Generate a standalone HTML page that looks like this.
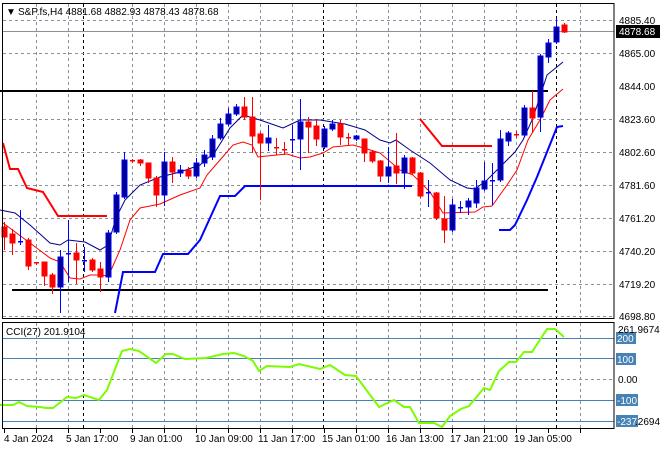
<!DOCTYPE html>
<html><head><meta charset="utf-8"><style>
body{margin:0;background:#fff;}
svg{display:block;font-family:"Liberation Sans",sans-serif;font-size:10px;}
</style></head><body>
<svg id="s" width="660" height="450" xmlns="http://www.w3.org/2000/svg">
<rect width="660" height="450" fill="#fff"/>
<g id="grid" stroke="#8a9199" stroke-dasharray="3,3" stroke-width="1"></g>
<line x1="2" y1="31.5" x2="614" y2="31.5" stroke="#8a9199"/>
<line x1="0" y1="91" x2="548" y2="91" stroke="#000" stroke-width="2"/>
<line x1="12" y1="290" x2="548" y2="290" stroke="#000" stroke-width="2"/>
<g id="lines" fill="none"></g>
<g id="candles"></g>
<g id="cci" fill="none"></g>
<rect x="2.5" y="3.5" width="611.5" height="315" fill="none" stroke="#000"/>
<rect x="2.5" y="322.5" width="611.5" height="106" fill="none" stroke="#000"/>
<g fill="#000">
<text x="6" y="15">&#9660;</text>
<text x="18" y="15">S&amp;P.fs,H4  4881.68 4882.93 4878.43 4878.68</text>
<text x="619" y="24">4885.40</text>
<text x="619" y="57">4865.00</text>
<text x="619" y="90">4844.00</text>
<text x="619" y="123">4823.60</text>
<text x="619" y="156">4802.60</text>
<text x="619" y="189">4781.60</text>
<text x="619" y="222">4761.20</text>
<text x="619" y="255">4740.20</text>
<text x="619" y="288">4719.20</text>
<text x="619" y="320">4698.80</text>
</g>
<rect x="616" y="25" width="44" height="13" fill="#000"/>
<text x="619" y="35" fill="#fff">4878.68</text>
<g fill="#4682b4">
<rect x="616" y="332" width="20" height="12"/>
<rect x="616" y="353" width="20" height="12"/>
<rect x="616" y="394" width="22" height="12"/>
<rect x="616" y="415" width="22" height="12"/>
</g>
<g fill="#fff"><text x="617" y="342">200</text><text x="617" y="363">100</text><text x="617" y="404">-100</text><text x="617" y="425">-237</text></g>
<g fill="#000">
<text x="618" y="333">261.9674</text>
<text x="618" y="383">0.00</text>
<text x="635" y="425">.2694</text>
<text x="6" y="335">CCI(27) 201.9104</text>
<text x="4" y="442">4 Jan 2024</text>
<text x="66" y="442">5 Jan 17:00</text>
<text x="130" y="442">9 Jan 01:00</text>
<text x="195" y="442">10 Jan 09:00</text>
<text x="258" y="442">11 Jan 17:00</text>
<text x="322" y="442">15 Jan 01:00</text>
<text x="386" y="442">16 Jan 13:00</text>
<text x="450" y="442">17 Jan 21:00</text>
<text x="514" y="442">19 Jan 05:00</text>
</g>
<g id="ticks" stroke="#000"></g>
</svg>
<script>
const NS="http://www.w3.org/2000/svg";
function el(p,t,a){const e=document.createElementNS(NS,t);for(const k in a)e.setAttribute(k,a[k]);p.appendChild(e);return e;}
const g=document.getElementById('grid');
const vx=[36,68,132,164,196,228,260,292,356,388,420,452,484,516,580];
vx.forEach(x=>{el(g,'line',{x1:x+.5,y1:4,x2:x+.5,y2:318});el(g,'line',{x1:x+.5,y1:323,x2:x+.5,y2:428});});
[83,323,556].forEach(x=>{el(g,'line',{x1:x+.5,y1:4,x2:x+.5,y2:318,stroke:'#000'});el(g,'line',{x1:x+.5,y1:323,x2:x+.5,y2:428,stroke:'#000'});});
[20,53,119,152,185,218,251,284,316].forEach(y=>el(g,'line',{x1:3,y1:y+.5,x2:614,y2:y+.5}));
el(g,'line',{x1:3,y1:379.5,x2:614,y2:379.5});
[338,358,400,421].forEach(y=>el(g,'line',{x1:3,y1:y+.5,x2:614,y2:y+.5,stroke:'#4682b4','stroke-dasharray':'none'}));
const tk=document.getElementById('ticks');
[4,36,68,100,132,164,196,228,260,292,324,356,388,420,452,484,516,548,580].forEach(x=>el(tk,'line',{x1:x+.5,y1:429,x2:x+.5,y2:433}));
const L=document.getElementById('lines');
function pl(pts,c,w){el(L,'polyline',{points:pts,stroke:c,'stroke-width':w,fill:'none'});}
pl("0,210 15,213 30,225 50,243 60,245 68,240 85,242 100,250 108,245 116,218 125,200 140,185 160,177 180,172 200,165 215,152 230,128 243,115 260,120 283,128 300,120 320,120 345,124 365,130 380,140 390,143 396,140 410,150 430,163 450,180 467,188 475,189 487,180 500,167 515,152 523,140 533,118 547,75 563,62","#00008b",1);
pl("3,223 30,243 50,258 60,262 70,278 80,279 90,275 100,275 108,276 112,268 120,250 130,220 140,208 150,206 160,204 180,195 200,188 207,175 220,160 233,145 243,142 252,145 258,157 267,156 287,154 300,158 310,157 323,153 333,147 353,145 367,149 380,153 400,170 413,175 430,192 443,213 475,212 483,207 492,206 507,185 517,170 528,103 540,90 563,89".replace(/528,103 540,90/,'528,140 540,120 550,100'),"#ff0000",1);
pl("3,143 10,169 18,169 27,188 43,192 58,216 107,216","#ff0000",2);
pl("420,119 442,146 492,146","#ff0000",2);
pl("115,313 123,272 155,272 163,254 188,254 200,240 220,196 235,196 245,186 412,186","#0000ff",2);
pl("499,230 510,230 515,225 527,200 537,177 557,127 563,126","#0000ff",2);
const C=document.getElementById('candles');
// [color, open-top, close-bottom, wickTop, wickBot]
const d=[['r',227,237,222,250],['r',234,243,229,255],['b',241,243,210,245],['r',240,266,238,270],['r',262,264,262,265],['r',262,276,262,286],['r',275,287,273,294],['b',257,287,250,313],['b',253,254,220,282],['r',253,260,243,284],['b',260,261,247,272],['r',260,270,258,272],['r',269,277,262,292],['b',233,277,230,282],['b',195,232,192,234],['b',160,197,152,199],['r',160,162,159,163],['r',160,163,159,166],['r',163,178,163,183],['r',178,195,176,207],['b',162,195,152,206],['r',162,172,157,183],['b',170,173,165,177],['r',170,176,167,179],['b',163,176,158,178],['b',155,163,150,167],['b',139,157,135,160],['b',124,138,118,140],['b',114,124,108,126],['b',107,114,104,116],['r',107,117,97,120],['r',117,136,97,153],['r',134,143,132,200],['b',138,143,125,151],['r',147,149,138,155],['r',149,151,142,155],['b',139,141,125,153],['b',122,139,99,170],['r',122,127,117,153],['r',126,139,119,146],['b',129,147,126,149],['b',124,129,120,131],['r',124,137,120,145],['r',137,139,133,145],['b',136,139,135,141],['r',139,153,139,162],['r',152,161,150,163],['r',161,176,160,182],['b',167,176,147,183],['r',166,173,133,184],['b',158,173,155,189],['r',158,173,157,175],['r',173,196,172,198],['b',192,194,180,207],['r',193,218,192,220],['r',219,230,196,243],['b',205,230,199,232],['b',207,209,201,213],['b',201,207,198,215],['b',188,203,180,208],['b',181,189,162,191],['b',180,182,163,205],['b',139,180,130,182],['b',133,141,131,146],['r',134,135,131,138],['b',108,135,105,137],['r',108,118,91,133],['b',56,117,54,132],['b',43,57,39,63],['b',27,42,18,44],['r',25,32,23,33]];
d.forEach((c,i)=>{const x=4+8*i;const red=c[0]=='r';
el(C,'line',{x1:x+.5,y1:c[3],x2:x+.5,y2:c[4],stroke:red?'#ff0000':'#0000ff','stroke-width':1});
const h=Math.max(1,c[2]-c[1]);
if(h<=2){el(C,'rect',{x:x-2,y:c[1],width:5,height:1.5,fill:red?'#ff0000':'#0000ff'});}
else el(C,'rect',{x:x-2,y:c[1],width:5,height:h,fill:red?'#ff0000':'#000090',stroke:red?'#ff0000':'#0000ff','stroke-width':1});
});
const K=document.getElementById('cci');
el(K,'polyline',{points:"0,405 13,405 19,402 27,406 40,407 46,408 53,408 67,397 76,398 84,395 99,400 107,390 122,351 130,349 139,351 156,363 166,354 173,354 185,359 206,358 223,354 234,353 244,356 253,361 259,371 267,366 290,367 299,364 320,369 330,365 345,375 356,376 379,407 394,400 404,407 410,407 419,423 434,423 442,427 450,416 461,409 469,406 484,388 490,390 499,371 509,362 516,362 524,352 532,352 547,329 555,329 564,337",stroke:'#7cfc00','stroke-width':2,fill:'none'});
</script>
</body></html>
